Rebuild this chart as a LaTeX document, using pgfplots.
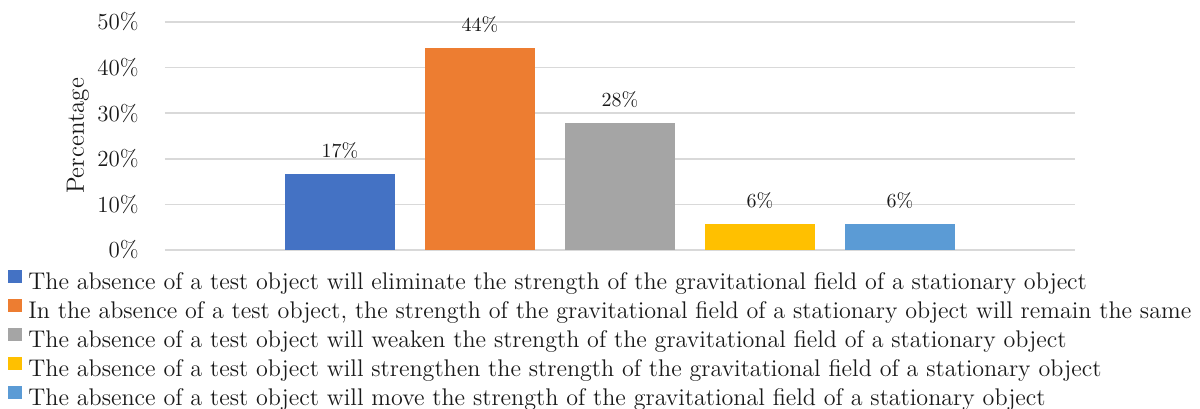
\documentclass[border=0pt]{standalone}
\usepackage{pgfplots}
\pgfplotsset{compat=1.18}
\definecolor{c1}{HTML}{4472C4}
\definecolor{c2}{HTML}{ED7D31}
\definecolor{c3}{HTML}{A5A5A5}
\definecolor{c4}{HTML}{FFC000}
\definecolor{c5}{HTML}{5B9BD5}
\begin{document}
\begin{tikzpicture}
\path[use as bounding box] (-82.5pt,-79pt) rectangle (517.5pt,125pt);
\begin{axis}[
  scale only axis, width=455pt, height=114pt,
  xmin=-0.25, xmax=6.25, ymin=0, ymax=50,
  ybar, bar width=0.7857, bar shift=0pt,
  axis line style={draw=none},
  xtick=\empty, ytick={0,10,...,50},
  ymajorgrids, grid style={color=gray!30, line width=0.75pt},
  major tick length=0pt,
  /pgf/number format/assume math mode=true,
  yticklabel={\pgfmathprintnumber{\tick}\%},
  yticklabel style={font=\fontsize{11.5}{13}\selectfont, text=black!90, inner sep=0pt, anchor=east, xshift=-13pt},
  ylabel={Percentage},
  every axis y label/.style={at={(axis description cs:-0.0956,0.5)}, rotate=90, anchor=center, font=\fontsize{12.5}{14}\selectfont, text=black!90},
  every node near coord/.append style={font=\fontsize{10}{12}\selectfont, text=black!90, anchor=south, inner sep=0pt, yshift=7.5pt},
  legend image code/.code={\fill[#1,draw=none] (0pt,0pt) rectangle (7pt,6.5pt);},
  legend cell align=left,
  legend style={at={(axis description cs:-0.1725,-0.086)}, anchor=north west, draw=none, fill=none,
    inner sep=0pt, row sep=2.5pt, column sep=3pt,
    font=\fontsize{12.05}{13.5}\selectfont,
    nodes={inner sep=0pt, text height=8.5pt, text depth=2.5pt, text=black!90}},
]
\addplot[fill=c1, draw=none, nodes near coords={17\%}] coordinates {(1,16.7)};
\addlegendentry{The absence of a test object will eliminate the strength of the gravitational field of a stationary object}
\addplot[fill=c2, draw=none, nodes near coords={44\%}] coordinates {(2,44.4)};
\addlegendentry{In the absence of a test object, the strength of the gravitational field of a stationary object will remain the same}
\addplot[fill=c3, draw=none, nodes near coords={28\%}] coordinates {(3,27.8)};
\addlegendentry{The absence of a test object will weaken the strength of the gravitational field of a stationary object}
\addplot[fill=c4, draw=none, nodes near coords={6\%}] coordinates {(4,5.6)};
\addlegendentry{The absence of a test object will strengthen the strength of the gravitational field of a stationary object}
\addplot[fill=c5, draw=none, nodes near coords={6\%}] coordinates {(5,5.6)};
\addlegendentry{The absence of a test object will move the strength of the gravitational field of a stationary object}
\end{axis}
\end{tikzpicture}
\end{document}
